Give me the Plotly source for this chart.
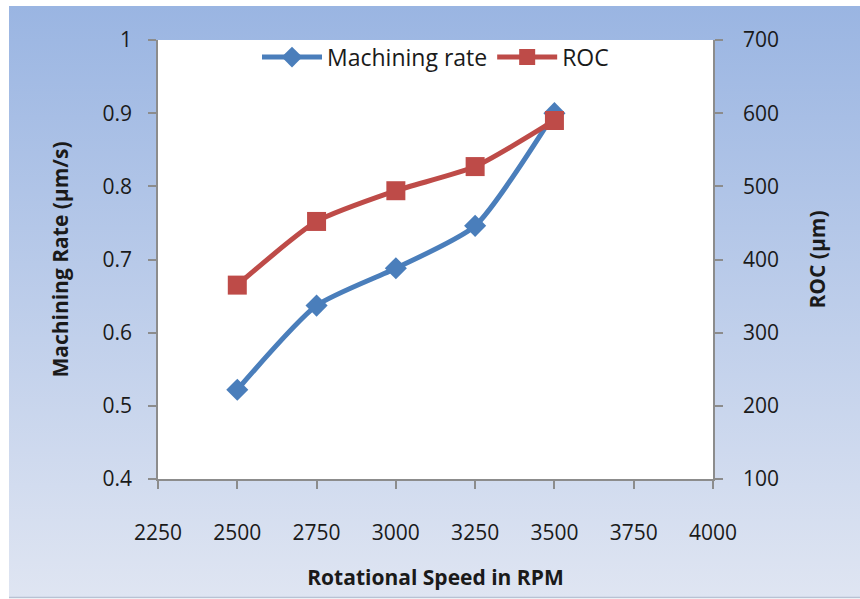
import base64
import plotly.graph_objects as go

# ---- data ----
rpm = [2500, 2750, 3000, 3250, 3500]
machining_rate = [0.522, 0.637, 0.688, 0.746, 0.900]
roc = [365, 452, 494, 527, 590]

x_ticks = [2250, 2500, 2750, 3000, 3250, 3500, 3750, 4000]
y1_ticks = [0.4, 0.5, 0.6, 0.7, 0.8, 0.9, 1.0]
y1_labels = ["0.4", "0.5", "0.6", "0.7", "0.8", "0.9", "1"]
y2_ticks = [100, 200, 300, 400, 500, 600, 700]

BLUE = "#4A7EBB"
RED = "#BE4B48"
FONT = "Open Sans"
TXT = "#1a1a1a"

svg = ('<svg xmlns="http://www.w3.org/2000/svg" width="100" height="100" preserveAspectRatio="none">'
       '<defs><linearGradient id="g" x1="0" y1="0" x2="0" y2="1">'
       '<stop offset="0" stop-color="#9AB5E2"/><stop offset="1" stop-color="#DFE5F2"/>'
       '</linearGradient></defs><rect width="100" height="100" fill="url(#g)"/></svg>')
src = "data:image/svg+xml;base64," + base64.b64encode(svg.encode()).decode()

fig = go.Figure()
fig.add_trace(go.Scatter(
    x=rpm, y=machining_rate, name="Machining rate", mode="lines+markers",
    line=dict(color=BLUE, width=5, shape="spline", smoothing=0.6),
    marker=dict(symbol="diamond", size=17, color=BLUE),
))
fig.add_trace(go.Scatter(
    x=rpm, y=roc, name="ROC", mode="lines+markers", yaxis="y2",
    line=dict(color=RED, width=5, shape="spline", smoothing=0.6),
    marker=dict(symbol="square", size=19, color=RED),
))

W, H = 860, 599
L, R, T, B = 158, 713, 40, 479

fig.add_layout_image(dict(
    source=src, xref="paper", yref="paper", sizing="stretch", layer="below",
    x=(9 - L) / (R - L), y=1 + (T - 6) / (B - T),
    sizex=(860 - 9) / (R - L), sizey=(597 - 6) / (B - T),
    xanchor="left", yanchor="top",
))
# white plot area
fig.add_shape(type="rect", xref="paper", yref="paper", x0=0, x1=1, y0=0, y1=1,
              fillcolor="white", line=dict(width=0), layer="below")
# bottom grey border line
fig.add_shape(type="line", xref="paper", yref="paper",
              x0=(9 - L) / (R - L), x1=(860 - L) / (R - L),
              y0=-(597.5 - B) / (B - T), y1=-(597.5 - B) / (B - T),
              line=dict(color="#B8C2D4", width=1.5), layer="below")

axis_common = dict(showgrid=False, zeroline=False, showline=True,
                   linecolor="#8C8C8C", linewidth=1.5,
                   ticks="outside", ticklen=8, tickcolor="#8C8C8C", tickwidth=1.5,
                   tickfont=dict(family=FONT, size=21, color=TXT))
title_font = dict(family=FONT, size=21, color=TXT, weight="bold")

fig.update_layout(
    width=W, height=H,
    margin=dict(l=L, r=W - R, t=T, b=H - B),
    paper_bgcolor="white", plot_bgcolor="white",
    xaxis=dict(range=[2250, 4000], tickvals=x_ticks,
               ticklabelstandoff=26,
               title=dict(text="Rotational Speed in RPM", standoff=25, font=title_font),
               **axis_common),
    yaxis=dict(range=[0.4, 1.0], tickvals=y1_ticks, ticktext=y1_labels,
               ticklabelstandoff=12,
               title=dict(text="Machining Rate (µm/s)", standoff=28, font=title_font),
               **axis_common),
    yaxis2=dict(range=[100, 700], tickvals=y2_ticks, overlaying="y", side="right",
                ticklabelstandoff=16,
                title=dict(text="ROC (µm)", standoff=32, font=title_font),
                **axis_common),
    legend=dict(orientation="h", x=0.5, xanchor="center", y=1.01, yanchor="top",
                bgcolor="rgba(0,0,0,0)",
                font=dict(family=FONT, size=23, color=TXT),
                itemwidth=60, tracegroupgap=0),
    showlegend=True,
)

fig.write_html("out.html")
